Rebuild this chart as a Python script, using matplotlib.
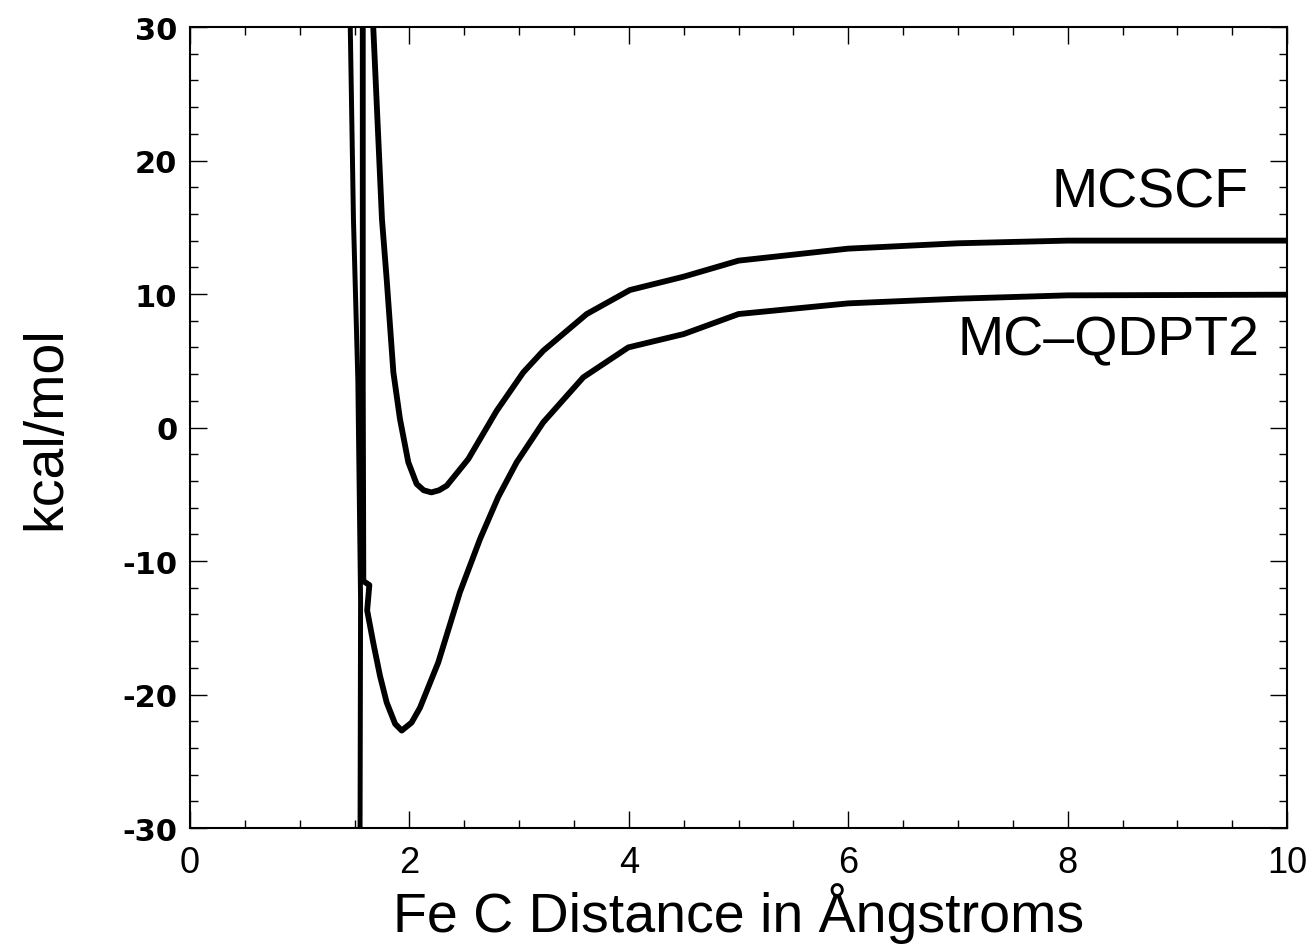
import matplotlib
matplotlib.use("Agg")
import matplotlib.pyplot as plt
from matplotlib.ticker import MultipleLocator

# ---- data ----
mcscf_x = [1.665, 1.75, 1.793, 1.854, 1.914, 1.99, 2.066, 2.13, 2.20, 2.27, 2.34, 2.537, 2.796, 3.038, 3.22, 3.616, 4.01, 4.5, 5.0, 6.0, 7.0, 8.0, 10.0]
mcscf_y = [31.0, 15.6, 11.1, 4.13, 0.64, -2.6, -4.23, -4.7, -4.86, -4.7, -4.36, -2.36, 1.26, 4.13, 5.75, 8.5, 10.3, 11.3, 12.5, 13.4, 13.8, 14.0, 14.0]

qdpt2_x = [1.575, 1.575, 1.58, 1.635, 1.615, 1.67, 1.732, 1.793, 1.87, 1.93, 2.02, 2.096, 2.263, 2.46, 2.644, 2.81, 2.978, 3.22, 3.585, 3.995, 4.5, 5.0, 6.0, 7.0, 8.0, 10.0]
qdpt2_y = [31.0, 3.0, -11.5, -11.8, -13.7, -16.1, -18.6, -20.6, -22.2, -22.7, -22.1, -21.0, -17.6, -12.35, -8.35, -5.2, -2.6, 0.39, 3.76, 6.0, 7.0, 8.5, 9.3, 9.65, 9.9, 9.95]

# spurious branch of MC-QDPT2 near 1.5 A
spike_x = [1.459, 1.49, 1.53, 1.555, 1.55]
spike_y = [31.0, 15.6, 3.6, -12.9, -31.0]

xticks = [0, 2, 4, 6, 8, 10]
yticks = [-30, -20, -10, 0, 10, 20, 30]

fig = plt.figure(figsize=(13.12, 9.53), dpi=100)
ax = fig.add_axes([0.1448, 0.1301, 0.8362, 0.8405])

lw = 4.2
ax.plot(mcscf_x, mcscf_y, color="black", lw=lw, solid_joinstyle="round", solid_capstyle="round")
ax.plot(qdpt2_x, qdpt2_y, color="black", lw=lw, solid_joinstyle="round", solid_capstyle="round")
ax.plot(spike_x, spike_y, color="black", lw=lw * 0.85, solid_joinstyle="round")

ax.set_xlim(0, 10)
ax.set_ylim(-30, 30)
ax.set_xticks(xticks)
ax.set_yticks(yticks)
ax.xaxis.set_minor_locator(MultipleLocator(0.5))
ax.yaxis.set_minor_locator(MultipleLocator(2))
ax.tick_params(which="both", direction="in", top=True, right=True, width=1.0)
ax.tick_params(which="major", length=12)
ax.tick_params(which="minor", length=6)
for s in ax.spines.values():
    s.set_linewidth(1.5)

sans = ["Liberation Sans", "DejaVu Sans"]
ax.set_xticklabels([str(t) for t in xticks], fontsize=26, family=sans)
ax.set_yticklabels([str(t) for t in yticks], fontsize=22, family=["DejaVu Sans"], fontweight="bold")
ax.tick_params(axis="x", pad=12)
ax.tick_params(axis="y", pad=9)

ax.set_xlabel("Fe C Distance in Ångstroms", fontsize=40, family=sans, labelpad=2)
ax.set_ylabel("kcal/mol", fontsize=40, family=sans, labelpad=36)

ax.text(9.65, 17.6, "MCSCF", fontsize=40, family=sans, ha="right", va="center")
ax.text(9.75, 6.5, "MC\u2013QDPT2", fontsize=40, family=sans, ha="right", va="center")

fig.savefig("out.png", dpi=100)
